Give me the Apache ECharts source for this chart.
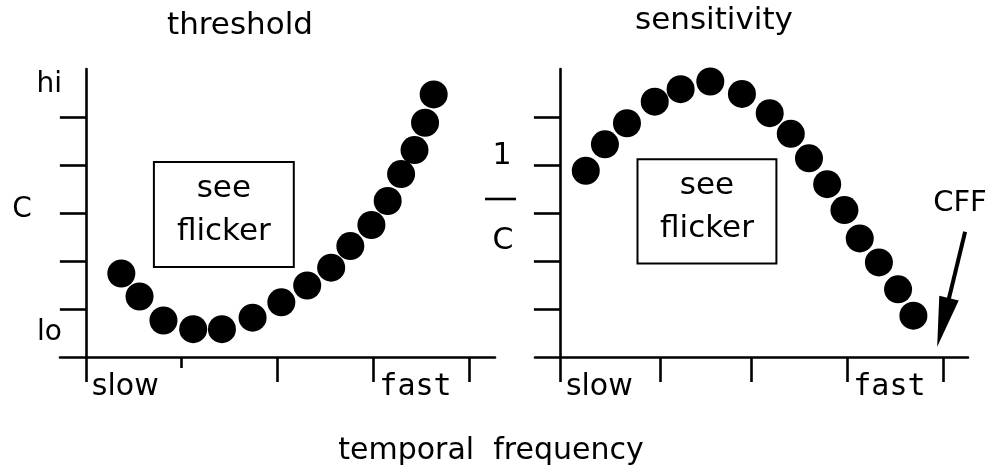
<!DOCTYPE html>
<html>
<head>
<meta charset="utf-8">
<script src="https://cdn.jsdelivr.net/npm/echarts@6/dist/echarts.min.js"></script>
<style>
  html, body { margin: 0; padding: 0; background: #fff; }
  #chart { width: 995px; height: 471px; }
</style>
</head>
<body>
<div id="chart"></div>
<script>
// threshold panel (x = temporal frequency, y = contrast C)
const thresholdX = [0.37, 0.56, 0.81, 1.12, 1.42, 1.74, 2.04, 2.31, 2.56, 2.76, 2.98, 3.15, 3.29, 3.43, 3.54, 3.63];
const thresholdY = [1.74, 1.26, 0.76, 0.58, 0.58, 0.82, 1.14, 1.49, 1.86, 2.31, 2.75, 3.25, 3.81, 4.31, 4.88, 5.47];

// sensitivity panel (y = 1/C)
const sensitivityX = [0.27, 0.47, 0.70, 0.99, 1.26, 1.57, 1.90, 2.19, 2.41, 2.60, 2.79, 2.97, 3.13, 3.33, 3.53, 3.69];
const sensitivityY = [3.88, 4.43, 4.87, 5.32, 5.58, 5.74, 5.48, 5.08, 4.65, 4.14, 3.60, 3.06, 2.47, 1.97, 1.41, 0.86];

// ticks
const yTicks = [1, 2, 3, 4, 5];
const leftXTicks = [0, 2, 3, 4];
const leftXShortTicks = [1];
const rightXTicks = [0, 1.05, 2, 3, 4];
const xLabels = { 0: 'slow', 3: 'fast' };

// "see flicker" boxes [x0, y0, x1, y1] in data units
const leftBox = [0.71, 4.06, 2.17, 1.875];
const rightBox = [0.81, 4.12, 2.26, 1.95];

// CFF arrow, start -> arrowhead centre
const cffArrow = [[4.23, 2.61], [4.0, 0.72]];

const FONT = 'DejaVu Sans';
const MONO = 'DejaVu Sans Mono';
const LW = 2.6;

const chart = echarts.init(document.getElementById('chart'), null, { renderer: 'canvas' });

const xLabelCfg = (values) => ({
  show: true,
  customValues: values,
  align: 'left',
  margin: 15,
  padding: [0, 0, 0, 6],
  formatter: (v) => v === 0 ? '{s|' + xLabels[v] + '}' : '{f|' + xLabels[v] + '}',
  rich: {
    s: { fontFamily: FONT, fontSize: 30, color: '#000' },
    f: { fontFamily: MONO, fontSize: 30, color: '#000' },
  },
});

const makeX = (gridIndex, min, max, ticks, tickLen, withLabels, showLine) => ({
  type: 'value',
  gridIndex,
  min,
  max,
  position: 'bottom',
  axisLine: { show: showLine, onZero: false, lineStyle: { color: '#000', width: LW } },
  axisTick: { show: true, customValues: ticks, length: tickLen, lineStyle: { color: '#000', width: LW } },
  axisLabel: withLabels ? xLabelCfg([0, 3]) : { show: false },
  splitLine: { show: false },
});

const makeY = (gridIndex) => ({
  type: 'value',
  gridIndex,
  min: 0,
  max: 6,
  axisLine: { show: true, onZero: true, lineStyle: { color: '#000', width: LW } },
  axisTick: { show: true, customValues: yTicks, length: 26, lineStyle: { color: '#000', width: LW } },
  axisLabel: { show: false },
  splitLine: { show: false },
});

const boxArea = (b) => ({
  silent: true,
  itemStyle: { color: 'rgba(0,0,0,0)', borderColor: '#000', borderWidth: 2 },
  label: {
    show: true,
    position: 'inside',
    offset: [0, -4],
    formatter: 'see\nflicker',
    fontFamily: FONT,
    fontSize: 31,
    lineHeight: 43,
    color: '#000',
    align: 'center',
  },
  data: [[{ coord: [b[0], b[1]] }, { coord: [b[2], b[3]] }]],
});

const dotStyle = {
  color: '#000',
  opacity: 1,
};

const text = (x, y, str, size, align, family) => ({
  type: 'text',
  x,
  y,
  style: {
    text: str,
    fontFamily: family || FONT,
    fontSize: size,
    fill: '#000',
    align: align || 'center',
    verticalAlign: 'middle',
  },
});

chart.setOption({
  animation: false,
  backgroundColor: '#fff',
  grid: [
    { left: 60, top: 69, width: 435, height: 288 },
    { left: 535, top: 69, width: 433, height: 288 },
  ],
  xAxis: [
    makeX(0, -0.27, 4.27, leftXTicks, 25, true, true),
    makeX(0, -0.27, 4.27, leftXShortTicks, 11, false, false),
    makeX(1, -0.26, 4.26, rightXTicks, 25, true, true),
  ],
  yAxis: [makeY(0), makeY(1)],
  series: [
    {
      name: 'threshold',
      type: 'scatter',
      xAxisIndex: 0,
      yAxisIndex: 0,
      symbolSize: 28,
      itemStyle: dotStyle,
      data: thresholdX.map((x, i) => [x, thresholdY[i]]),
      markArea: boxArea(leftBox),
    },
    {
      name: 'sensitivity',
      type: 'scatter',
      xAxisIndex: 2,
      yAxisIndex: 1,
      symbolSize: 28,
      itemStyle: dotStyle,
      data: sensitivityX.map((x, i) => [x, sensitivityY[i]]),
      markArea: boxArea(rightBox),
      markLine: {
        silent: true,
        symbol: ['none', 'triangle'],
        symbolSize: [20, 50],
        label: { show: false },
        lineStyle: { color: '#000', width: 4, type: 'solid', opacity: 1 },
        itemStyle: { color: '#000' },
        data: [[{ coord: cffArrow[0] }, { coord: cffArrow[1] }]],
      },
    },
  ],
  graphic: [
    text(240, 26, 'threshold', 31),
    text(714, 21, 'sensitivity', 31),
    text(62, 85, 'hi', 28, 'right'),
    text(22, 210, 'C', 28),
    text(62, 333, 'lo', 28, 'right'),
    text(502, 156, '1', 30),
    {
      type: 'line',
      shape: { x1: 485, y1: 199, x2: 516, y2: 199 },
      style: { stroke: '#000', lineWidth: LW },
    },
    text(503, 241, 'C', 30),
    text(960, 203, 'CFF', 29),
    text(491, 451, 'temporal  frequency', 30),
  ],
});
</script>
</body>
</html>
